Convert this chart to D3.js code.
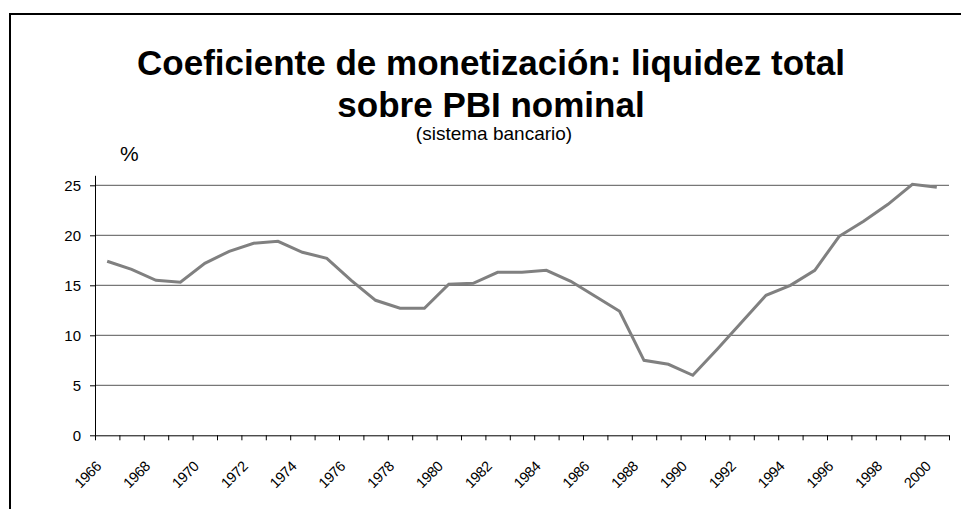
<!DOCTYPE html>
<html lang="es">
<head>
<meta charset="UTF-8">
<title>Coeficiente de monetización</title>
<script src="https://cdnjs.cloudflare.com/ajax/libs/d3/7.8.5/d3.min.js"></script>
<style>
  html, body { margin: 0; padding: 0; background: #fff; }
  text { font-family: Arial, "Liberation Sans", sans-serif; fill: #000; }
</style>
</head>
<body>
<div id="chart"></div>
<script>
// categorias (años) y serie
var years = [1966, 1967, 1968, 1969, 1970, 1971, 1972, 1973, 1974, 1975,
             1976, 1977, 1978, 1979, 1980, 1981, 1982, 1983, 1984, 1985,
             1986, 1987, 1988, 1989, 1990, 1991, 1992, 1993, 1994, 1995,
             1996, 1997, 1998, 1999, 2000];
var liquidez = [17.4, 16.6, 15.5, 15.3, 17.2, 18.4, 19.2, 19.4, 18.3, 17.7,
                15.5, 13.5, 12.7, 12.7, 15.1, 15.2, 16.3, 16.3, 16.5, 15.4,
                13.9, 12.4, 7.5, 7.1, 6.0, 8.6, 11.3, 14.0, 15.0, 16.5,
                19.9, 21.4, 23.1, 25.1, 24.8];
var yTicks = [0, 5, 10, 15, 20, 25];
var xLabels = [1966, 1968, 1970, 1972, 1974, 1976, 1978, 1980, 1982, 1984,
               1986, 1988, 1990, 1992, 1994, 1996, 1998, 2000];
var titleLines = ["Coeficiente de monetización: liquidez total", "sobre PBI nominal"];
var subtitle = "(sistema bancario)";
var unitLabel = "%";

var W = 961, H = 509;
var plotLeft = 95, plotRight = 949, plotTop = 175.3, plotBottom = 435.3;

var svg = d3.select("#chart").append("svg")
    .attr("width", W)
    .attr("height", H);

// marco exterior
svg.append("rect")
    .attr("x", 10).attr("y", 14)
    .attr("width", W + 20).attr("height", H + 20)
    .attr("fill", "none")
    .attr("stroke", "#000")
    .attr("stroke-width", 2);

var x = d3.scaleBand()
    .domain(years)
    .range([plotLeft, plotRight]);

var y = d3.scaleLinear()
    .domain([0, 26])
    .range([plotBottom, plotTop]);

// lineas de grilla
svg.append("g")
    .selectAll("line")
    .data(yTicks.filter(function(d) { return d > 0; }))
    .enter()
    .append("line")
      .attr("x1", plotLeft).attr("x2", plotRight)
      .attr("y1", function(d) { return y(d); })
      .attr("y2", function(d) { return y(d); })
      .attr("stroke", "#555")
      .attr("stroke-width", 1);

// eje Y
var yAxis = svg.append("g")
    .attr("transform", "translate(" + plotLeft + ",0)")
    .call(d3.axisLeft(y).tickValues(yTicks).tickSize(5).tickPadding(9).tickSizeOuter(0));
yAxis.selectAll("text").style("font-size", "15px").attr("font-family", null);
yAxis.selectAll("path, line").attr("stroke", "#000");

// eje X: marcas entre categorias
var xb = d3.scaleLinear().domain([0, years.length]).range([plotLeft, plotRight]);
var xAxis = svg.append("g")
    .attr("transform", "translate(0," + plotBottom + ")")
    .call(d3.axisBottom(xb).tickValues(d3.range(years.length + 1)).tickSize(5).tickSizeOuter(0).tickFormat(""));
xAxis.selectAll("path, line").attr("stroke", "#000");

// etiquetas de años rotadas
svg.append("g")
    .selectAll("text")
    .data(xLabels)
    .enter()
    .append("text")
      .attr("transform", function(d) {
        return "translate(" + (x(d) + x.bandwidth() / 2 - 5) + "," + (plotBottom + 32) + ") rotate(-45)";
      })
      .attr("text-anchor", "end")
      .style("font-size", "14.5px")
      .style("letter-spacing", "-0.4px")
      .text(function(d) { return d; });

// serie
var line = d3.line()
    .x(function(d, i) { return x(years[i]) + x.bandwidth() / 2; })
    .y(function(d) { return y(d); });

svg.append("path")
    .datum(liquidez)
    .attr("d", line)
    .attr("fill", "none")
    .attr("stroke", "#808080")
    .attr("stroke-width", 3)
    .attr("stroke-linejoin", "miter");

// titulos
svg.append("g")
    .selectAll("text")
    .data(titleLines)
    .enter()
    .append("text")
      .attr("x", 491)
      .attr("y", function(d, i) { return 75 + i * 42; })
      .attr("text-anchor", "middle")
      .style("font-size", "35px").style("font-weight", "bold")
      .text(function(d) { return d; });
svg.append("text")
    .attr("x", 494).attr("y", 140)
    .attr("text-anchor", "middle")
    .style("font-size", "19px")
    .text(subtitle);
svg.append("text")
    .attr("x", 120).attr("y", 161)
    .style("font-size", "21px")
    .text(unitLabel);
</script>
</body>
</html>
